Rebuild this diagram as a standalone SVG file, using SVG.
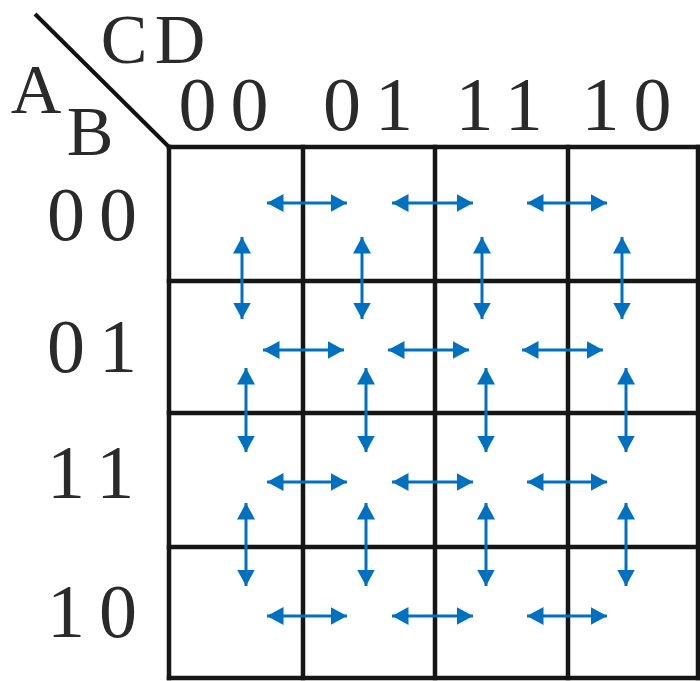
<svg xmlns="http://www.w3.org/2000/svg" width="700" height="681" viewBox="0 0 700 681">
<style>
.lbl{font-family:"Liberation Serif","Times New Roman",serif;font-size:76px;fill:#2a2a2a;letter-spacing:14px}
.var{font-family:"Liberation Serif","Times New Roman",serif;font-size:70px;fill:#2a2a2a}
.grid{stroke:#161616;stroke-width:4.5;fill:none;stroke-linecap:square}
.arr{stroke:#0070C0;stroke-width:3;fill:none;marker-start:url(#ah);marker-end:url(#ah)}
</style>
<defs>
<marker id="ah" markerUnits="userSpaceOnUse" markerWidth="17" markerHeight="18" refX="16.5" refY="9" orient="auto-start-reverse" viewBox="0 0 17 18">
<path d="M0,0 L16.5,9 L0,18 z" fill="#0070C0"/>
</marker>
</defs>
<rect width="700" height="681" fill="#fff"/>
<g id="header">
<line x1="35" y1="14" x2="169" y2="147" stroke="#111" stroke-width="4"/>
<text class="var" x="100.7" y="63" letter-spacing="7.3">CD</text>
<text class="var" x="36" y="113" text-anchor="middle">A</text>
<text class="var" x="90" y="155" text-anchor="middle">B</text>
</g>
<g id="col-labels">
<text class="lbl" x="178.5" y="130">00</text>
<text class="lbl" x="323" y="130">01</text>
<text class="lbl" x="455.5" y="130">11</text>
<text class="lbl" x="581.5" y="130">10</text>
</g>
<g id="row-labels">
<text class="lbl" x="47" y="240">00</text>
<text class="lbl" x="47" y="372">01</text>
<text class="lbl" x="47" y="498">11</text>
<text class="lbl" x="47" y="637">10</text>
</g>
<g id="grid" class="grid">
<line x1="169" y1="147" x2="698" y2="147"/>
<line x1="169" y1="281" x2="698" y2="281"/>
<line x1="169" y1="413" x2="698" y2="413"/>
<line x1="169" y1="547" x2="698" y2="547"/>
<line x1="169" y1="678" x2="698" y2="678"/>
<line x1="169" y1="147" x2="169" y2="678"/>
<line x1="303" y1="147" x2="303" y2="678"/>
<line x1="435" y1="147" x2="435" y2="678"/>
<line x1="568" y1="147" x2="568" y2="678"/>
<line x1="698" y1="147" x2="698" y2="678"/>
</g>
<g id="connectors" class="arr">
<line x1="267" y1="203" x2="347" y2="203"/>
<line x1="392" y1="203" x2="473" y2="203"/>
<line x1="527" y1="203" x2="607" y2="203"/>
<line x1="263" y1="350" x2="344" y2="350"/>
<line x1="388" y1="350" x2="469" y2="350"/>
<line x1="522" y1="350" x2="603" y2="350"/>
<line x1="267" y1="482" x2="347" y2="482"/>
<line x1="392" y1="482" x2="473" y2="482"/>
<line x1="527" y1="482" x2="607" y2="482"/>
<line x1="267" y1="616" x2="347" y2="616"/>
<line x1="392" y1="616" x2="473" y2="616"/>
<line x1="527" y1="616" x2="607" y2="616"/>
<line x1="242" y1="237" x2="242" y2="319"/>
<line x1="362" y1="237" x2="362" y2="319"/>
<line x1="482" y1="237" x2="482" y2="319"/>
<line x1="622" y1="237" x2="622" y2="319"/>
<line x1="246" y1="368" x2="246" y2="452"/>
<line x1="366" y1="368" x2="366" y2="452"/>
<line x1="486" y1="368" x2="486" y2="452"/>
<line x1="626" y1="368" x2="626" y2="452"/>
<line x1="246" y1="503" x2="246" y2="586"/>
<line x1="366" y1="503" x2="366" y2="586"/>
<line x1="486" y1="503" x2="486" y2="586"/>
<line x1="626" y1="503" x2="626" y2="586"/>
</g>
</svg>
